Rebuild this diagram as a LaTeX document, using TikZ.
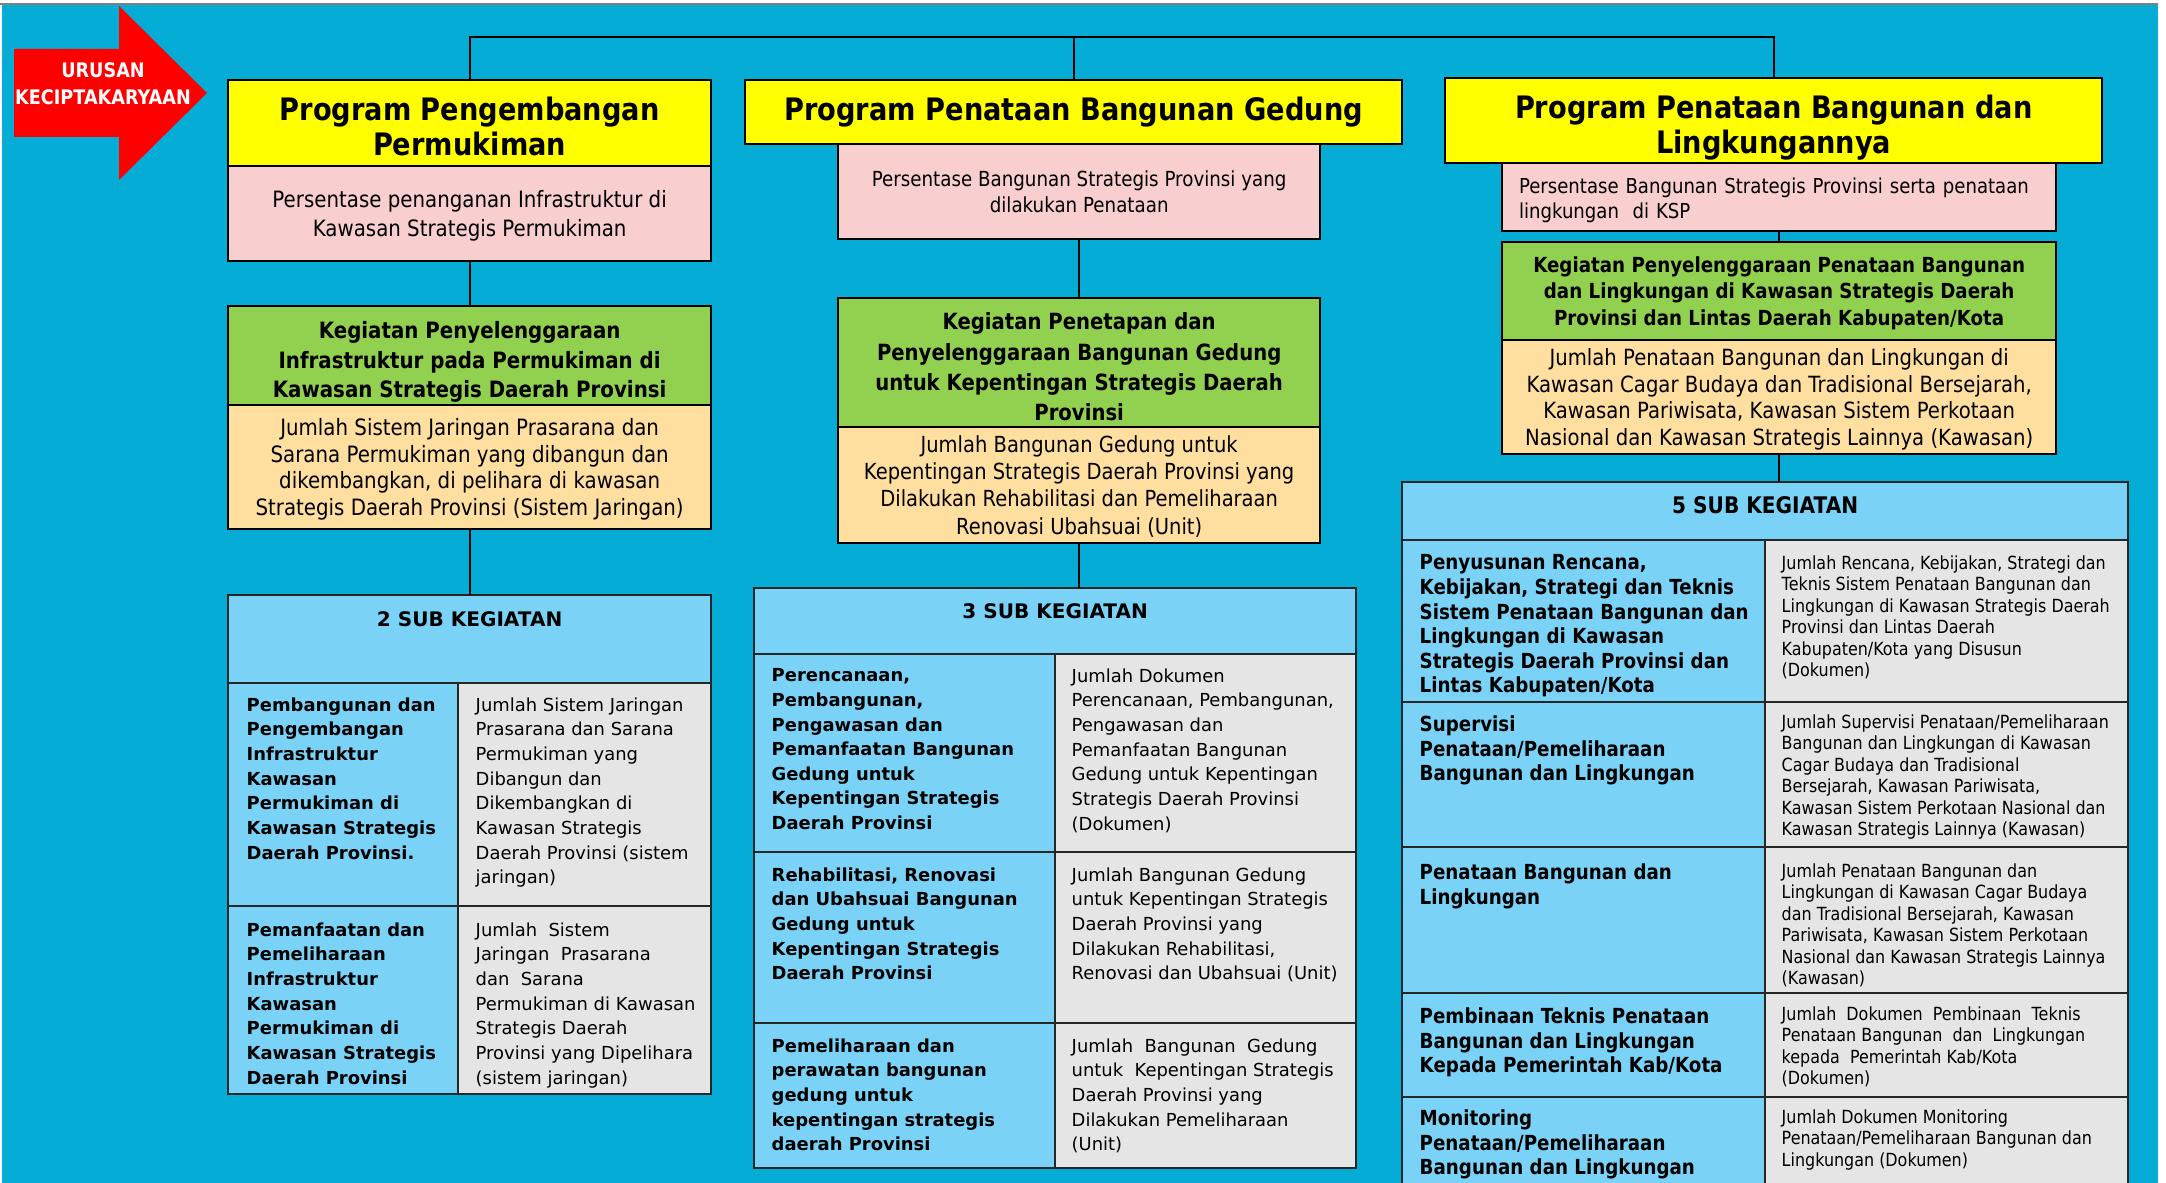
\documentclass[tikz,border=0pt]{standalone}
\usepackage{fontspec}
\setmainfont{DejaVu Sans}
\newfontfamily\verdana{DejaVu Sans}
\newfontfamily\tahoma[FakeStretch=0.88]{DejaVu Sans}
\definecolor{bgblue}{RGB}{5,172,213}
\definecolor{arrowred}{RGB}{255,0,0}
\definecolor{progyellow}{RGB}{255,255,0}
\definecolor{indpink}{RGB}{248,206,206}
\definecolor{keggreen}{RGB}{146,208,80}
\definecolor{outorange}{RGB}{255,223,160}
\definecolor{subblue}{RGB}{122,211,247}
\definecolor{cellgray}{RGB}{229,229,229}
\begin{document}
\begin{tikzpicture}[x=0.01cm,y=-0.01cm]
        \tikzstyle{box_style} = [draw=black, line width=0.6pt, anchor=north west, inner sep=0pt, outer sep=0pt, align=center, text depth=0pt]
        \tikzstyle{cell_style} = [draw=black!85, line width=0.6pt, anchor=north west, inner sep=0pt, outer sep=0pt]
        \tikzstyle{edge_style} = [draw=black, line width=0.6pt]
        \tikzstyle{head_text} = [inner sep=0pt, font=\verdana\bfseries\fontsize{5.7}{7}\selectfont]
        \tikzstyle{name_text} = [anchor=north west, inner sep=0pt, align=left, font=\verdana\bfseries\fontsize{5.1}{7}\selectfont]
        \tikzstyle{value_text} = [anchor=north west, inner sep=0pt, align=left, font=\verdana\fontsize{5.1}{7}\selectfont]
        \useasboundingbox (0,0) rectangle (2166,1183);
        \clip (0,0) rectangle (2166,1183);
        \fill[white] (0,0) rectangle (2166,1183);
        \fill[bgblue] (2,5) rectangle (2158,1183);
        \draw[gray, line width=0.6pt] (0,4) -- (2158,4);
        % urusan arrow
        \fill[arrowred] (14,49) -- (119,49) -- (119,6) -- (207,93) -- (119,180) -- (119,137) -- (14,137) -- cycle;
        \node[text=white, align=center, font=\tahoma\bfseries\fontsize{5.7}{7.7}\selectfont] (urusan) at (103,84) {URUSAN\\KECIPTAKARYAAN};
        % program pengembangan permukiman
        \node[box_style, fill=progyellow, minimum width=4.83cm, minimum height=0.86cm, font=\tahoma\bfseries\fontsize{8.8}{10}\selectfont] (prog1) at (228,80) {\rule{0pt}{8.7pt}Program Pengembangan\\Permukiman};
        \node[box_style, fill=indpink, minimum width=4.83cm, minimum height=0.95cm, font=\tahoma\fontsize{6.4}{8.25}\selectfont] (ind1) at (228,166) {Persentase penanganan Infrastruktur di\\Kawasan Strategis Permukiman};
        \node[box_style, fill=keggreen, minimum width=4.83cm, minimum height=0.99cm, font=\tahoma\bfseries\fontsize{6.4}{8.4}\selectfont] (keg1) at (228,306) {\rule{0pt}{7.3pt}Kegiatan Penyelenggaraan\\Infrastruktur pada Permukiman di\\Kawasan Strategis Daerah Provinsi};
        \node[box_style, fill=outorange, minimum width=4.83cm, minimum height=1.24cm, font=\tahoma\fontsize{6.4}{7.55}\selectfont] (out1) at (228,405) {Jumlah Sistem Jaringan Prasarana dan\\Sarana Permukiman yang dibangun dan\\dikembangkan, di pelihara di kawasan\\Strategis Daerah Provinsi (Sistem Jaringan)};
        % program penataan bangunan gedung
        \node[box_style, fill=progyellow, minimum width=6.57cm, minimum height=0.64cm, text depth=1.85pt, font=\tahoma\bfseries\fontsize{8.8}{10}\selectfont] (prog2) at (745,80) {Program Penataan Bangunan Gedung};
        \node[box_style, fill=indpink, minimum width=4.82cm, minimum height=0.95cm, font=\tahoma\fontsize{5.9}{7.4}\selectfont] (ind2) at (838,144) {Persentase Bangunan Strategis Provinsi yang\\dilakukan Penataan};
        \node[box_style, fill=keggreen, minimum width=4.82cm, minimum height=1.29cm, font=\tahoma\bfseries\fontsize{6.35}{8.6}\selectfont] (keg2) at (838,298) {\rule{0pt}{7.2pt}Kegiatan Penetapan dan\\Penyelenggaraan Bangunan Gedung\\untuk Kepentingan Strategis Daerah\\Provinsi};
        \node[box_style, fill=outorange, minimum width=4.82cm, minimum height=1.16cm, font=\tahoma\fontsize{6.3}{7.7}\selectfont] (out2) at (838,427) {Jumlah Bangunan Gedung untuk\\Kepentingan Strategis Daerah Provinsi yang\\Dilakukan Rehabilitasi dan Pemeliharaan\\Renovasi Ubahsuai (Unit)};
        % program penataan bangunan dan lingkungannya
        \node[box_style, fill=progyellow, minimum width=6.57cm, minimum height=0.85cm, font=\tahoma\bfseries\fontsize{8.8}{10.2}\selectfont] (prog3) at (1445,78) {\rule{0pt}{8.8pt}Program Penataan Bangunan dan\\Lingkungannya};
        \node[box_style, fill=indpink, minimum width=5.54cm, minimum height=0.68cm, text width=5.2cm, align=left, text depth={}, font=\tahoma\fontsize{5.85}{7.1}\selectfont] (ind3) at (1502,163) {\rule{0pt}{6.45pt}Persentase Bangunan Strategis Provinsi serta penataan\\lingkungan~~di KSP};
        \node[box_style, fill=keggreen, minimum width=5.54cm, minimum height=0.98cm, font=\tahoma\bfseries\fontsize{5.9}{7.5}\selectfont] (keg3) at (1502,242) {Kegiatan Penyelenggaraan Penataan Bangunan\\dan Lingkungan di Kawasan Strategis Daerah\\Provinsi dan Lintas Daerah Kabupaten/Kota};
        \node[box_style, fill=outorange, minimum width=5.54cm, minimum height=1.14cm, font=\tahoma\fontsize{6.35}{7.6}\selectfont] (out3) at (1502,340) {Jumlah Penataan Bangunan dan Lingkungan di\\Kawasan Cagar Budaya dan Tradisional Bersejarah,\\Kawasan Pariwisata, Kawasan Sistem Perkotaan\\Nasional dan Kawasan Strategis Lainnya (Kawasan)};
        % 2 sub kegiatan
        \node[cell_style, fill=subblue, minimum width=4.83cm, minimum height=0.88cm] (sub2) at (228,595) {};
        \node[head_text] (sub2txt) at ([shift={(0,24)}]sub2.north) {2 SUB KEGIATAN};
        \node[cell_style, fill=subblue, minimum width=2.30cm, minimum height=2.23cm] (sub2a) at (228,683) {};
        \node[cell_style, fill=cellgray, minimum width=2.53cm, minimum height=2.23cm] (sub2b) at (458,683) {};
        \node[cell_style, fill=subblue, minimum width=2.30cm, minimum height=1.88cm] (sub2c) at (228,906) {};
        \node[cell_style, fill=cellgray, minimum width=2.53cm, minimum height=1.88cm] (sub2d) at (458,906) {};
        \node[name_text] (sub2atxt) at ([shift={(18,14)}]sub2a.north west) {Pembangunan dan\\Pengembangan\\Infrastruktur\\Kawasan\\Permukiman di\\Kawasan Strategis\\Daerah Provinsi.};
        \node[value_text] (sub2btxt) at ([shift={(17,14)}]sub2b.north west) {Jumlah Sistem Jaringan\\Prasarana dan Sarana\\Permukiman yang\\Dibangun dan\\Dikembangkan di\\Kawasan Strategis\\Daerah Provinsi (sistem\\jaringan)};
        \node[name_text] (sub2ctxt) at ([shift={(18,16)}]sub2c.north west) {Pemanfaatan dan\\Pemeliharaan\\Infrastruktur\\Kawasan\\Permukiman di\\Kawasan Strategis\\Daerah Provinsi};
        \node[value_text] (sub2dtxt) at ([shift={(17,16)}]sub2d.north west) {Jumlah~~Sistem\\Jaringan~~Prasarana\\dan~~Sarana\\Permukiman di Kawasan\\Strategis Daerah\\Provinsi yang Dipelihara\\(sistem jaringan)};
        % 3 sub kegiatan
        \node[cell_style, fill=subblue, minimum width=6.02cm, minimum height=0.66cm] (sub3) at (754,588) {};
        \node[head_text] (sub3txt) at ([shift={(0,23)}]sub3.north) {3 SUB KEGIATAN};
        \node[cell_style, fill=subblue, minimum width=3.01cm, minimum height=1.98cm] (sub3a) at (754,654) {};
        \node[cell_style, fill=cellgray, minimum width=3.01cm, minimum height=1.98cm] (sub3b) at (1055,654) {};
        \node[cell_style, fill=subblue, minimum width=3.01cm, minimum height=1.71cm] (sub3c) at (754,852) {};
        \node[cell_style, fill=cellgray, minimum width=3.01cm, minimum height=1.71cm] (sub3d) at (1055,852) {};
        \node[cell_style, fill=subblue, minimum width=3.01cm, minimum height=1.45cm] (sub3e) at (754,1023) {};
        \node[cell_style, fill=cellgray, minimum width=3.01cm, minimum height=1.45cm] (sub3f) at (1055,1023) {};
        \node[name_text] (sub3atxt) at ([shift={(17,14)}]sub3a.north west) {Perencanaan,\\Pembangunan,\\Pengawasan dan\\Pemanfaatan Bangunan\\Gedung untuk\\Kepentingan Strategis\\Daerah Provinsi};
        \node[value_text] (sub3btxt) at ([shift={(16,14)}]sub3b.north west) {Jumlah Dokumen\\Perencanaan, Pembangunan,\\Pengawasan dan\\Pemanfaatan Bangunan\\Gedung untuk Kepentingan\\Strategis Daerah Provinsi\\(Dokumen)};
        \node[name_text] (sub3ctxt) at ([shift={(17,15)}]sub3c.north west) {Rehabilitasi, Renovasi\\dan Ubahsuai Bangunan\\Gedung untuk\\Kepentingan Strategis\\Daerah Provinsi};
        \node[value_text] (sub3dtxt) at ([shift={(16,15)}]sub3d.north west) {Jumlah Bangunan Gedung\\untuk Kepentingan Strategis\\Daerah Provinsi yang\\Dilakukan Rehabilitasi,\\Renovasi dan Ubahsuai (Unit)};
        \node[name_text] (sub3etxt) at ([shift={(17,15)}]sub3e.north west) {Pemeliharaan dan\\perawatan bangunan\\gedung untuk\\kepentingan strategis\\daerah Provinsi};
        \node[value_text] (sub3ftxt) at ([shift={(16,15)}]sub3f.north west) {Jumlah~~Bangunan~~Gedung\\untuk~~Kepentingan Strategis\\Daerah Provinsi yang\\Dilakukan Pemeliharaan\\(Unit)};
        % 5 sub kegiatan
        \node[cell_style, fill=subblue, minimum width=7.26cm, minimum height=0.58cm] (sub5) at (1402,482) {};
        \node[head_text, font=\tahoma\bfseries\fontsize{6.5}{7}\selectfont] (sub5txt) at ([shift={(0,23)}]sub5.north) {5 SUB KEGIATAN};
        \node[cell_style, fill=subblue, minimum width=3.63cm, minimum height=1.62cm] (sub5a) at (1402,540) {};
        \node[cell_style, fill=cellgray, minimum width=3.63cm, minimum height=1.62cm] (sub5b) at (1765,540) {};
        \node[cell_style, fill=subblue, minimum width=3.63cm, minimum height=1.45cm] (sub5c) at (1402,702) {};
        \node[cell_style, fill=cellgray, minimum width=3.63cm, minimum height=1.45cm] (sub5d) at (1765,702) {};
        \node[cell_style, fill=subblue, minimum width=3.63cm, minimum height=1.46cm] (sub5e) at (1402,847) {};
        \node[cell_style, fill=cellgray, minimum width=3.63cm, minimum height=1.46cm] (sub5f) at (1765,847) {};
        \node[cell_style, fill=subblue, minimum width=3.63cm, minimum height=1.04cm] (sub5g) at (1402,993) {};
        \node[cell_style, fill=cellgray, minimum width=3.63cm, minimum height=1.04cm] (sub5h) at (1765,993) {};
        \node[cell_style, fill=subblue, minimum width=3.63cm, minimum height=1.10cm] (sub5i) at (1402,1097) {};
        \node[cell_style, fill=cellgray, minimum width=3.63cm, minimum height=1.10cm] (sub5j) at (1765,1097) {};
        \tikzstyle{name5_text} = [name_text, font=\tahoma\bfseries\fontsize{5.9}{7}\selectfont]
        \tikzstyle{value5_text} = [value_text, font=\tahoma\fontsize{5.15}{6.1}\selectfont]
        \node[name5_text] (sub5atxt) at ([shift={(17,14)}]sub5a.north west) {Penyusunan Rencana,\\Kebijakan, Strategi dan Teknis\\Sistem Penataan Bangunan dan\\Lingkungan di Kawasan\\Strategis Daerah Provinsi dan\\Lintas Kabupaten/Kota};
        \node[value5_text] (sub5btxt) at ([shift={(16,15)}]sub5b.north west) {Jumlah Rencana, Kebijakan, Strategi dan\\Teknis Sistem Penataan Bangunan dan\\Lingkungan di Kawasan Strategis Daerah\\Provinsi dan Lintas Daerah\\Kabupaten/Kota yang Disusun\\(Dokumen)};
        \node[name5_text] (sub5ctxt) at ([shift={(17,13)}]sub5c.north west) {Supervisi\\Penataan/Pemeliharaan\\Bangunan dan Lingkungan};
        \node[value5_text] (sub5dtxt) at ([shift={(16,12)}]sub5d.north west) {Jumlah Supervisi Penataan/Pemeliharaan\\Bangunan dan Lingkungan di Kawasan\\Cagar Budaya dan Tradisional\\Bersejarah, Kawasan Pariwisata,\\Kawasan Sistem Perkotaan Nasional dan\\Kawasan Strategis Lainnya (Kawasan)};
        \node[name5_text] (sub5etxt) at ([shift={(17,16)}]sub5e.north west) {Penataan Bangunan dan\\Lingkungan};
        \node[value5_text] (sub5ftxt) at ([shift={(16,16)}]sub5f.north west) {Jumlah Penataan Bangunan dan\\Lingkungan di Kawasan Cagar Budaya\\dan Tradisional Bersejarah, Kawasan\\Pariwisata, Kawasan Sistem Perkotaan\\Nasional dan Kawasan Strategis Lainnya\\(Kawasan)};
        \node[name5_text] (sub5gtxt) at ([shift={(17,14)}]sub5g.north west) {Pembinaan Teknis Penataan\\Bangunan dan Lingkungan\\Kepada Pemerintah Kab/Kota};
        \node[value5_text] (sub5htxt) at ([shift={(16,13)}]sub5h.north west) {Jumlah~~Dokumen~~Pembinaan~~Teknis\\Penataan Bangunan~~dan~~Lingkungan\\kepada~~Pemerintah Kab/Kota\\(Dokumen)};
        \node[name5_text] (sub5itxt) at ([shift={(17,12)}]sub5i.north west) {Monitoring\\Penataan/Pemeliharaan\\Bangunan dan Lingkungan};
        \node[value5_text] (sub5jtxt) at ([shift={(16,12)}]sub5j.north west) {Jumlah Dokumen Monitoring\\Penataan/Pemeliharaan Bangunan dan\\Lingkungan (Dokumen)};
        % connectors
        \coordinate (bus) at (1076,37);
        \draw[edge_style] (prog1.north) |- (bus) -| (prog3.north);
        \draw[edge_style] (prog2.north) -- (prog2.north |- bus);
        \draw[edge_style] (ind1) edge (keg1);
        \draw[edge_style] (out1) edge (sub2);
        \draw[edge_style] (ind2) edge (keg2);
        \draw[edge_style] (out2.south) -- (out2.south |- sub3.north);
        \draw[edge_style] (ind3) edge (keg3);
        \draw[edge_style] (out3.south) -- (out3.south |- sub5.north);
      \end{tikzpicture}
\end{document}
